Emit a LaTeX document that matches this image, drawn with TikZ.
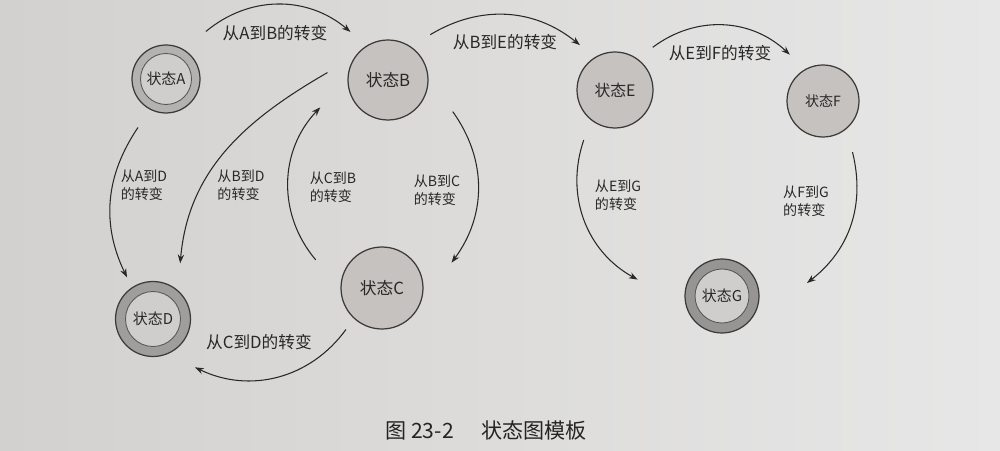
\documentclass[tikz,border=0pt]{standalone}
\usepackage{fontspec}
\setmainfont{Noto Sans CJK SC}
\usetikzlibrary{calc,arrows.meta}
\definecolor{bgL}{HTML}{D3D1CF}
\definecolor{bgR}{HTML}{E7E7E7}
\definecolor{ink}{HTML}{2A2827}
\definecolor{edge}{HTML}{3C3A39}
\definecolor{fillS}{HTML}{C5C2BF}
\definecolor{ringA}{HTML}{B4B2B0}
\definecolor{ringD}{HTML}{A09E9C}
\definecolor{ringG}{HTML}{979593}
\definecolor{inner}{HTML}{D0CECC}
\tikzset{
  state/.style={circle, draw=edge, line width=0.7pt, fill=fillS, inner sep=0pt, text=ink,
    font=\fontsize{9.5}{11}\selectfont},
  ringst/.style={circle, draw=edge, line width=0.7pt, inner sep=0pt},
  innerst/.style={circle, draw=edge!85, line width=0.5pt, fill=inner, inner sep=0pt, text=ink,
    font=\fontsize{8.5}{10}\selectfont},
  conn/.style={-{Stealth[length=5pt,width=3.6pt]}, line width=0.6pt, draw=ink},
  lbl/.style={text=ink, font=\fontsize{9.5}{11}\selectfont, inner sep=1pt},
  lbltwo/.style={text=ink, font=\fontsize{8}{10.2}\selectfont, align=left, inner sep=1pt},
  captxt/.style={text=ink!90!black, font=\fontsize{12}{14}\selectfont},
}
\begin{document}
\begin{tikzpicture}[x=0.02cm,y=0.02cm]
\shade[left color=bgL, right color=bgR] (0,0) rectangle (1000,450);
\useasboundingbox (0,0) rectangle (1000,450);

% states
\node[ringst, fill=ringA, minimum size=13.6mm] (A) at (166,371) {};
\node[innerst, minimum size=10.2mm] (Ai) at (A) {状态A};
\node[state, minimum size=16mm] (B) at (388,370) {状态B};
\node[state, minimum size=16.4mm] (C) at (382,162) {状态C};
\node[ringst, fill=ringD, minimum size=15mm] (D) at (153,131) {};
\node[innerst, minimum size=11mm] (Di) at (D) {状态D};
\node[state, minimum size=15.2mm, font=\fontsize{9}{11}\selectfont] (E) at (615,360) {状态E};
\node[state, minimum size=14.4mm, font=\fontsize{8}{10}\selectfont] (F) at (823,349) {状态F};
\node[ringst, fill=ringG, minimum size=14.8mm] (G) at (722,154) {};
\node[innerst, minimum size=10.8mm] (Gi) at (G) {状态G};

% transitions
\draw[conn] ($(A)+(50:62)$) to[bend left=40] ($(B)+(128:61)$);
\draw[conn] ($(B)+(47:62)$) to[bend left=35] ($(E)+(128:57)$);
\draw[conn] ($(E)+(48.5:57)$) to[bend left=40] ($(F)+(125.6:57)$);
\draw[conn] ($(A)+(240:56)$) to[bend right=30] ($(D)+(122:49)$);
\draw[conn] ($(B)+(173:61)$) to[out=210,in=85] ($(D)+(64:62)$);
\draw[conn] ($(C)+(157:72)$) to[bend left=42] ($(B)+(202:73)$);
\draw[conn] ($(B)+(-26:72)$) to[bend left=36] ($(C)+(20:74)$);
\draw[conn] ($(C)+(229:55)$) to[bend left=40] ($(D)+(-49:64)$);
\draw[conn] ($(E)+(238:59)$) to[bend right=40] ($(G)+(169:86)$);
\draw[conn] ($(F)+(-60:59)$) to[bend left=33] ($(G)+(8.7:86)$);

% labels
\node[lbl] (lAB) at (275,417) {从A到B的转变};
\node[lbl] (lBE) at (505,408) {从B到E的转变};
\node[lbl] (lEF) at (720,397) {从E到F的转变};
\node[lbl] (lCD) at (259,108) {从C到D的转变};
\node[lbltwo] (lAD) at (144,265) {从A到D\\的转变};
\node[lbltwo] (lBD) at (241,265) {从B到D\\的转变};
\node[lbltwo] (lCB) at (333,263) {从C到B\\的转变};
\node[lbltwo] (lBC) at (437,260) {从B到C\\的转变};
\node[lbltwo] (lEG) at (618,255) {从E到G\\的转变};
\node[lbltwo] (lFG) at (806,249) {从F到G\\的转变};

% caption
\node[captxt] (cap) at (486,20) {图 23-2\hspace{1.3em}状态图模板};
\end{tikzpicture}
\end{document}
